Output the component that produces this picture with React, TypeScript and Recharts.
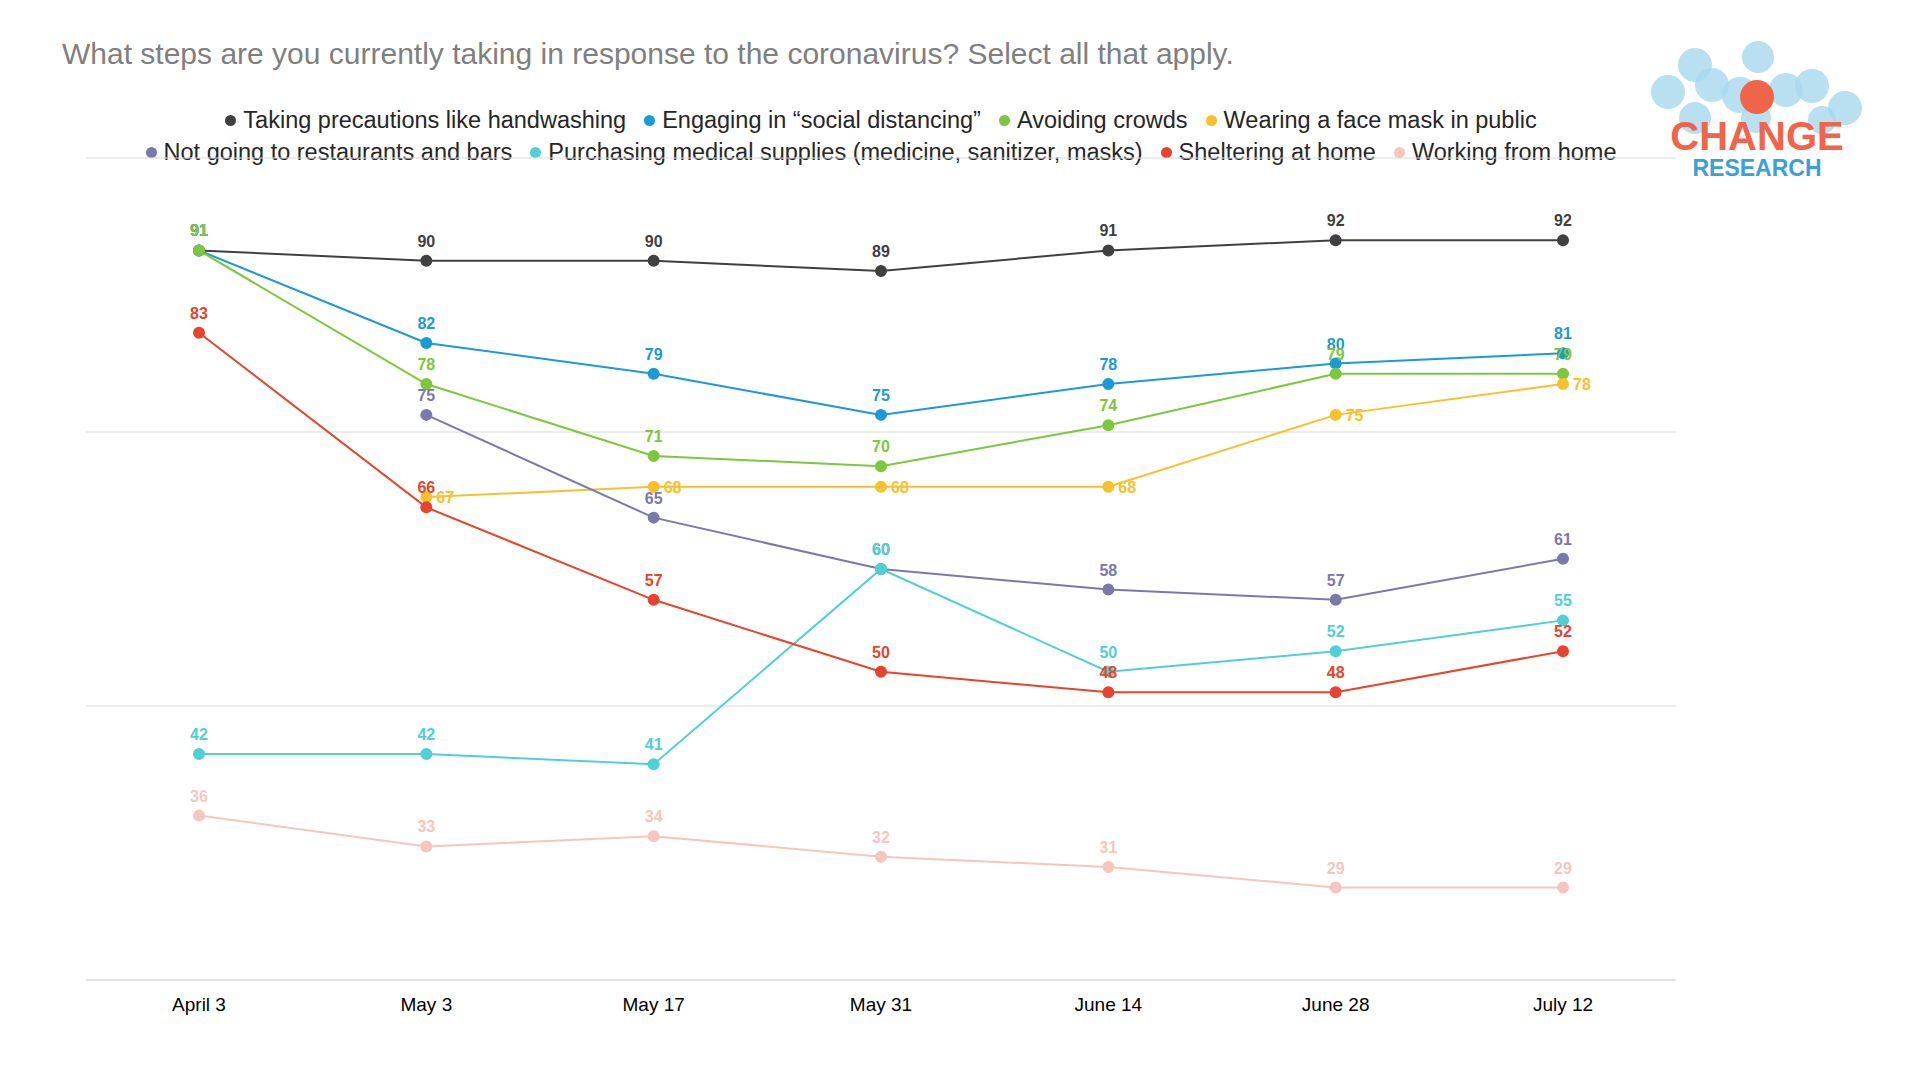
import { LineChart, Line, XAxis, YAxis, CartesianGrid, LabelList } from "recharts";

const dates = ["April 3", "May 3", "May 17", "May 31", "June 14", "June 28", "July 12"];
const handwashing = [91, 90, 90, 89, 91, 92, 92];
const distancing = [91, 82, 79, 75, 78, 80, 81];
const crowds = [91, 78, 71, 70, 74, 79, 79];
const mask = [null, 67, 68, 68, 68, 75, 78];
const restaurants = [null, 75, 65, 60, 58, 57, 61];
const supplies = [42, 42, 41, 60, 50, 52, 55];
const sheltering = [83, 66, 57, 50, 48, 48, 52];
const fromHome = [36, 33, 34, 32, 31, 29, 29];

const series = [
  { key: "hand", name: "Taking precautions like handwashing", color: "#404040", values: handwashing, right: false },
  { key: "dist", name: "Engaging in \u201csocial distancing\u201d", color: "#1a9ad6", values: distancing, right: false },
  { key: "crowd", name: "Avoiding crowds", color: "#7cc73c", values: crowds, right: false },
  { key: "mask", name: "Wearing a face mask in public", color: "#f8c02a", values: mask, right: true },
  { key: "rest", name: "Not going to restaurants and bars", color: "#7b78ae", values: restaurants, right: false },
  { key: "supp", name: "Purchasing medical supplies (medicine, sanitizer, masks)", color: "#4fd0d6", values: supplies, right: false },
  { key: "shel", name: "Sheltering at home", color: "#e8432d", values: sheltering, right: false },
  { key: "home", name: "Working from home", color: "#f6c6bc", values: fromHome, right: false },
];

const data = dates.map((d, i) => {
  const row: Record<string, string | number | null> = { date: d };
  series.forEach((s) => (row[s.key] = s.values[i]));
  return row;
});

const FONT = "Arial, 'Liberation Sans', sans-serif";

function makeLabel(color: string, right: boolean) {
  // eslint-disable-next-line @typescript-eslint/no-explicit-any
  return (props: any) => {
    const { x, y, value } = props;
    if (value == null) return null;
    return (
      <text
        x={right ? x + 10 : x}
        y={right ? y + 6 : y - 14}
        textAnchor={right ? "start" : "middle"}
        fill={color}
        fontSize={16}
        fontWeight={700}
        fontFamily={FONT}
      >
        {value}
      </text>
    );
  };
}

function Logo() {
  const circles = [
    [1695, 65, 17], [1712, 85, 17], [1758, 57, 16], [1668, 92, 17], [1740, 95, 18],
    [1786, 90, 17], [1812, 86, 17], [1845, 108, 17], [1695, 118, 16], [1756, 118, 15], [1822, 120, 14],
  ];
  return (
    <svg style={{ position: "absolute", left: 0, top: 0 }} width={1920} height={200}>
      {circles.map(([cx, cy, r], i) => (
        <circle key={i} cx={cx} cy={cy} r={r} fill="#a8d8ee" opacity={0.8} />
      ))}
      <circle cx={1757} cy={97} r={17} fill="#f0644a" />
      <text x={1757} y={150} textAnchor="middle" fill="#f0644a" fontSize={40} fontWeight={700} fontFamily={FONT}>
        CHANGE
      </text>
      <text x={1757} y={176} textAnchor="middle" fill="#3aa0d8" fontSize={23} fontWeight={700} fontFamily={FONT}>
        RESEARCH
      </text>
    </svg>
  );
}

function LegendRow({ items, top }: { items: typeof series; top: number }) {
  return (
    <div
      style={{
        position: "absolute", top, left: 231, width: 1300, display: "flex",
        justifyContent: "center", gap: 18, fontSize: 23.5, color: "#262626", fontFamily: FONT, whiteSpace: "nowrap",
      }}
    >
      {items.map((s) => (
        <span key={s.key} style={{ display: "flex", alignItems: "center" }}>
          <span style={{ width: 11, height: 11, borderRadius: "50%", background: s.color, marginRight: 7, display: "inline-block" }} />
          {s.name}
        </span>
      ))}
    </div>
  );
}

export default function App() {
  return (
    <div style={{ position: "fixed", left: 0, top: 0, width: 1920, height: 1080, background: "#fff", fontFamily: FONT }}>
      <div style={{ position: "absolute", left: 62, top: 37, fontSize: 30, color: "#7f7f7f" }}>
        What steps are you currently taking in response to the coronavirus? Select all that apply.
      </div>
      <LegendRow items={series.slice(0, 4)} top={107} />
      <LegendRow items={series.slice(4)} top={139} />
      <Logo />
      <div style={{ position: "absolute", left: 0, top: 0 }}>
        <LineChart width={1920} height={1080} data={data} margin={{ top: 158, right: 244, bottom: 60, left: 86 }}>
          <CartesianGrid vertical={false} stroke="#d9d9d9" />
          <XAxis
            dataKey="date"
            padding={{ left: 113, right: 113 }}
            tick={{ fontSize: 19, fill: "#000", fontFamily: FONT }}
            tickLine={false}
            axisLine={{ stroke: "#d9d9d9" }}
            tickMargin={12}
            height={40}
          />
          <YAxis hide domain={[20, 100]} ticks={[20, 46.667, 73.333, 100]} />
          {series.map((s) => (
            <Line
              key={s.key}
              dataKey={s.key}
              stroke={s.color}
              strokeWidth={2}
              dot={{ r: 5, fill: s.color, stroke: s.color }}
              isAnimationActive={false}
              connectNulls={false}
            >
              <LabelList dataKey={s.key} content={makeLabel(s.color, s.right)} />
            </Line>
          ))}
        </LineChart>
      </div>
    </div>
  );
}
